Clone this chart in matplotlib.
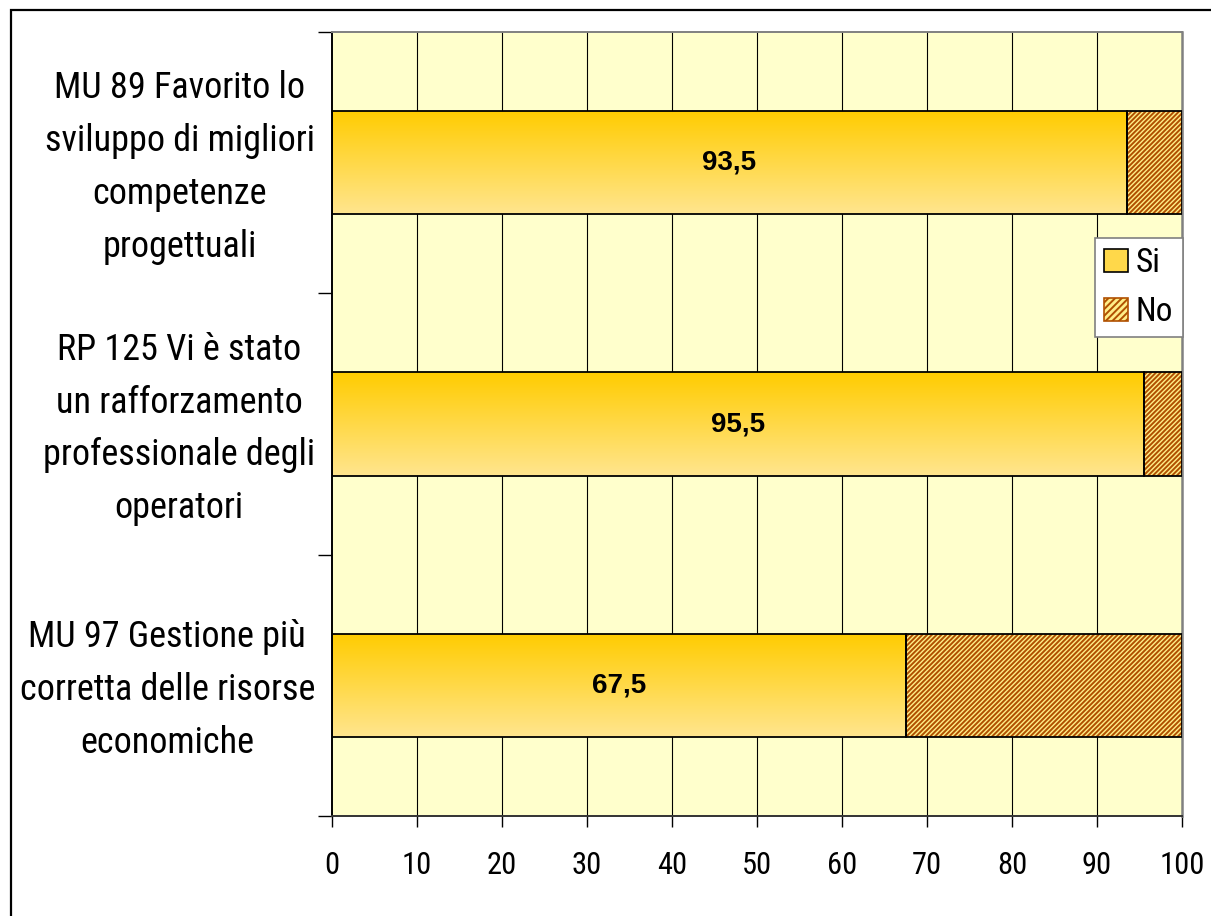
import matplotlib
matplotlib.use("Agg")
import matplotlib.pyplot as plt
import numpy as np
from matplotlib import font_manager
from matplotlib.patches import Patch, Rectangle
from matplotlib.font_manager import FontProperties
import matplotlib.transforms as mtransforms

categories = [
    "MU 89 Favorito lo\nsviluppo di migliori\ncompetenze\nprogettuali",
    "RP 125 Vi è stato\nun rafforzamento\nprofessionale degli\noperatori",
    "MU 97 Gestione più\ncorretta delle risorse\neconomiche",
]
si_values = [93.5, 95.5, 67.5]
no_values = [6.5, 4.5, 32.5]
si_labels = ["93,5", "95,5", "67,5"]
x_ticks = [0, 10, 20, 30, 40, 50, 60, 70, 80, 90, 100]
legend_labels = ["Si", "No"]

# look for a narrow / condensed sans face
narrow_file = None
for pref in ("liberationsansnarrow-regular", "arialn", "robotocondensed-regular",
             "opensanscondensed", "dejavusanscondensed.ttf"):
    for f in font_manager.fontManager.ttflist:
        base = f.fname.lower().replace(" ", "").replace("_", "")
        if pref in base.split("/")[-1]:
            narrow_file = f.fname
            break
    if narrow_file:
        break

if narrow_file:
    cat_fp = FontProperties(fname=narrow_file, size=26)
    tick_fp = FontProperties(fname=narrow_file, size=22)
    leg_fp = FontProperties(fname=narrow_file, size=24)
    cat_ls = 1.6
else:
    cat_fp = FontProperties(family=['Liberation Sans', 'DejaVu Sans'], size=24)
    tick_fp = FontProperties(family=['Liberation Sans', 'DejaVu Sans'], size=20)
    leg_fp = FontProperties(family=['Liberation Sans', 'DejaVu Sans'], size=21)
    cat_ls = 1.72

plt.rcParams['font.family'] = ['Liberation Sans', 'DejaVu Sans']
plt.rcParams['hatch.linewidth'] = 1.4

W, H = 1211, 916
fig = plt.figure(figsize=(W / 100, H / 100), dpi=100)
fig.patch.set_facecolor('white')
ax = fig.add_axes([332 / W, 1 - 816 / H, (1182 - 332) / W, (816 - 32) / H])
ax.set_facecolor('#FFFFCC')

# outer frame
fig.add_artist(Rectangle((11 / W, -0.2), 2.0, 1.2 - 10 / H, transform=fig.transFigure,
                         fill=False, edgecolor='black', linewidth=1.6, clip_on=False))

ypos = np.arange(len(categories))
h = 0.395

for x in x_ticks[1:-1]:
    ax.axvline(x, color='black', linewidth=0.8, zorder=1)

top_col = np.array([1.0, 0.80, 0.0])
bot_col = np.array([1.0, 0.90, 0.56])
grad = np.linspace(0, 1, 256)[:, None, None] * (bot_col - top_col) + top_col

hatch_col = '#B05000'
no_face = '#FFEE88'

for y, v, n in zip(ypos, si_values, no_values):
    bar = ax.barh(y, v, height=h, left=0, facecolor='none', edgecolor='black',
                  linewidth=1.3, zorder=4)[0]
    im = ax.imshow(grad, extent=(0, v, y + h / 2, y - h / 2), origin='upper',
                   aspect='auto', zorder=2, interpolation='bilinear')
    im.set_clip_path(bar)
    ax.barh(y, n, height=h, left=v, facecolor=no_face, edgecolor=hatch_col,
            hatch='///////', linewidth=0, zorder=3)
    ax.barh(y, n, height=h, left=v, facecolor='none', edgecolor='black',
            linewidth=1.3, zorder=4)

for y, v, lab in zip(ypos, si_values, si_labels):
    ax.text(v / 2, y, lab, ha='center', va='center', fontsize=20, fontweight='bold',
            family='Liberation Sans', zorder=5)

ax.set_xlim(0, 100)
ax.set_ylim(len(categories) - 0.5, -0.5)

ax.set_xticks(x_ticks)
ax.set_xticklabels([str(t) for t in x_ticks])
for t in ax.get_xticklabels():
    t.set_fontproperties(tick_fp)
ax.tick_params(axis='x', length=8, width=1, pad=17, color='black')

ax.set_yticks(np.arange(len(categories) + 1) - 0.5)
ax.set_yticklabels([])
ax.tick_params(axis='y', which='major', length=10, width=1, color='black')

# category labels (centred lines, right edge just left of the axis)
lab_trans = mtransforms.blended_transform_factory(ax.transAxes, ax.transData)
for y, cat in zip(ypos, categories):
    ax.text((315 - 332) / 850, y + 0.019, cat, transform=lab_trans, ha='right',
            va='center', multialignment='center', linespacing=cat_ls,
            fontproperties=cat_fp, clip_on=False)

ax.spines['left'].set_color('black')
ax.spines['left'].set_linewidth(1.4)
ax.spines['bottom'].set_color('#333333')
ax.spines['bottom'].set_linewidth(1.4)
ax.spines['top'].set_color('#808080')
ax.spines['top'].set_linewidth(1.4)
ax.spines['right'].set_color('#808080')
ax.spines['right'].set_linewidth(1.8)

handles = [Patch(facecolor='#FFD84A', edgecolor='black', linewidth=1.2),
           Patch(facecolor=no_face, edgecolor=hatch_col, hatch='/////', linewidth=1.2)]
leg = ax.legend(handles, legend_labels, loc='upper left',
                bbox_to_anchor=((1095 - 332) / 850, (816 - 238) / 784),
                prop=leg_fp, frameon=True, fancybox=False, framealpha=1,
                edgecolor='#808080', handlelength=0.7, handleheight=0.7,
                handletextpad=0.25, borderpad=0.28, labelspacing=0.5, borderaxespad=0)
leg.get_frame().set_linewidth(1.2)
leg.set_zorder(10)

fig.savefig('out.png', dpi=100)
